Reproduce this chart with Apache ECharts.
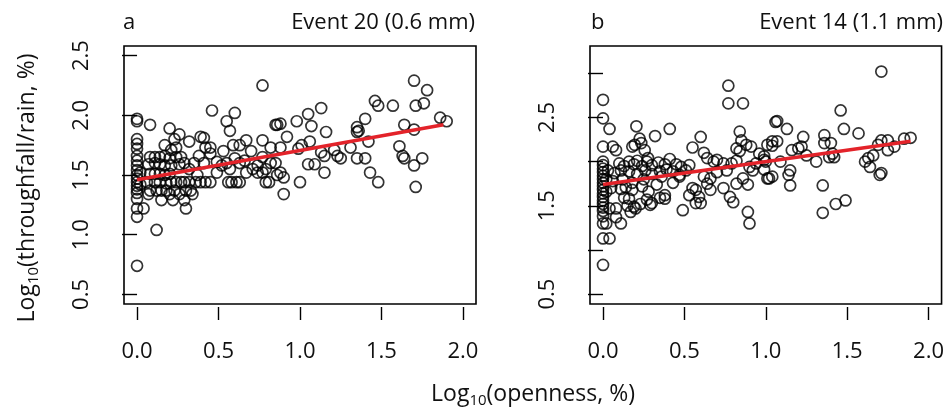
<!DOCTYPE html>
<html><head><meta charset="utf-8">
<script src="https://cdn.jsdelivr.net/npm/echarts@6/dist/echarts.min.js"></script>
<style>html,body{margin:0;padding:0;background:#fff}#c{width:947px;height:409px}</style>
</head><body><div id="c"></div>
<script>
const xTicks = [0, 0.5, 1, 1.5, 2];
const aYTicks = [0.5, 1, 1.5, 2, 2.5];
const bYTicks = [0.5, 1, 1.5, 2, 2.5, 3];
const bYLabels = [0.5, 1.5, 2.5];
const panelLetters = ['a', 'b'];
const panelTitles = ['Event 20 (0.6 mm)', 'Event 14 (1.1 mm)'];
const xTitle = '(openness, %)';
const yTitle = '(throughfall/rain, %)';

// Panel a: Event 20 — [log10 openness, log10 throughfall/rain]
const eventA = [
[0,1.97],[0,1.95],[0,1.80],[0,1.76],[0,1.72],[0,1.66],[0,1.62],[0,1.58],[0,1.54],[0,1.50],[0,1.47],[0,1.44],[0,1.41],[0,1.38],[0,1.35],[0,1.30],[0,1.22],[0,1.15],[0,0.74],
[0.04,1.22],[0.02,1.52],[0.02,1.42],
[0.08,1.92],[0.08,1.65],[0.07,1.59],[0.08,1.51],[0.06,1.44],[0.08,1.37],[0.07,1.34],
[0.11,1.65],[0.11,1.60],[0.11,1.51],[0.11,1.44],[0.12,1.37],[0.12,1.04],
[0.14,1.65],[0.14,1.59],[0.14,1.51],[0.14,1.44],[0.15,1.37],[0.15,1.29],
[0.17,1.75],[0.17,1.66],[0.17,1.58],[0.17,1.50],[0.18,1.43],[0.18,1.37],
[0.20,1.89],[0.21,1.71],[0.20,1.64],[0.21,1.58],[0.20,1.51],[0.21,1.44],[0.20,1.34],[0.22,1.29],
[0.23,1.80],[0.24,1.73],[0.24,1.65],[0.24,1.44],[0.23,1.37],
[0.26,1.84],[0.27,1.65],[0.26,1.59],[0.27,1.44],[0.26,1.34],
[0.29,1.60],[0.29,1.44],[0.30,1.37],[0.29,1.29],[0.30,1.22],
[0.32,1.78],[0.32,1.55],[0.32,1.44],[0.33,1.37],[0.34,1.34],
[0.35,1.60],[0.36,1.44],[0.37,1.50],
[0.39,1.82],[0.39,1.44],[0.38,1.66],
[0.41,1.81],[0.42,1.73],[0.41,1.60],[0.42,1.44],
[0.45,1.73],[0.45,1.68],[0.45,1.44],[0.46,2.04],
[0.49,1.61],[0.49,1.52],
[0.53,1.70],[0.52,1.58],
[0.55,1.95],[0.55,1.60],[0.56,1.44],
[0.57,1.87],[0.57,1.55],[0.58,1.44],
[0.59,1.75],[0.60,1.64],[0.61,1.44],[0.60,2.02],
[0.63,1.75],[0.63,1.60],[0.63,1.44],
[0.67,1.79],[0.66,1.62],[0.67,1.52],
[0.70,1.70],[0.71,1.55],
[0.74,1.58],[0.74,1.52],
[0.77,2.25],[0.77,1.79],[0.77,1.65],[0.77,1.52],
[0.79,1.55],[0.79,1.44],
[0.82,1.73],[0.82,1.60],[0.81,1.44],
[0.85,1.92],[0.86,1.92],[0.85,1.60],[0.86,1.50],
[0.88,1.93],[0.88,1.73],[0.88,1.52],
[0.90,1.34],[0.90,1.48],[0.92,1.82],
[0.98,1.95],[0.99,1.72],[1.00,1.44],[1.01,1.75],[1.05,2.01],[1.05,1.59],[1.06,1.78],[1.07,1.91],[1.09,1.59],
[1.13,2.06],[1.13,1.69],[1.15,1.66],[1.15,1.52],[1.16,1.86],[1.21,1.71],[1.23,1.66],[1.25,1.64],
[1.31,1.73],[1.35,1.90],[1.36,1.87],[1.35,1.86],[1.35,1.64],[1.40,1.97],[1.40,1.64],[1.42,1.78],[1.43,1.52],
[1.46,2.12],[1.48,2.08],[1.48,1.44],[1.57,2.08],[1.61,1.74],[1.63,1.66],[1.64,1.64],[1.64,1.92],
[1.70,2.29],[1.70,1.88],[1.70,1.58],[1.71,2.08],[1.71,1.40],[1.75,1.64],[1.76,2.10],[1.78,2.21],[1.86,1.98],[1.90,1.95]
];

// Panel b: Event 14
const eventB = [
[0,2.70],[0,2.49],[0,2.17],[0,2.00],[0,1.96],[0,1.92],[0,1.88],[0,1.84],[0,1.80],[0,1.76],[0,1.72],[0,1.68],[0,1.64],[0,1.60],[0,1.56],[0,1.52],[0,1.48],[0,1.44],[0,1.38],[0,1.30],[0,1.13],[0,0.83],
[0.04,2.37],[0.04,1.13],[0.02,1.30],[0.04,1.47],[0.08,1.47],[0.06,2.17],[0.08,2.13],[0.02,1.66],[0.03,1.90],[0.02,1.80],
[0.08,1.37],[0.11,1.30],[0.17,1.43],[0.20,1.47],
[0.10,1.98],[0.13,1.95],[0.16,2.00],[0.19,1.97],[0.21,2.01],[0.24,1.95],[0.27,2.00],[0.30,1.96],[0.34,1.99],[0.38,1.97],[0.41,2.03],[0.45,1.97],[0.48,1.94],
[0.07,1.87],[0.11,1.90],[0.16,1.89],[0.21,1.86],[0.26,1.90],[0.30,1.86],[0.35,1.89],[0.39,1.91],[0.43,1.89],[0.47,1.85],
[0.06,1.78],[0.12,1.80],[0.18,1.76],[0.25,1.80],[0.33,1.74],[0.36,1.83],[0.43,1.76],[0.47,1.83],[0.51,1.90],[0.53,1.96],
[0.05,1.70],[0.11,1.69],[0.14,1.71],[0.18,1.68],[0.24,1.72],[0.28,1.66],
[0.13,1.59],[0.16,1.58],[0.27,1.57],[0.35,1.59],
[0.15,1.50],[0.19,1.49],[0.23,1.52],[0.29,1.51],[0.30,1.53],[0.38,1.62],[0.38,1.58],
[0.205,2.40],[0.32,2.29],[0.225,2.26],[0.235,2.21],[0.195,2.19],[0.256,2.13],[0.276,2.04],[0.41,2.37],[0.18,2.17],
[0.49,1.45],[0.55,2.16],[0.60,2.28],[0.57,1.68],[0.59,1.60],[0.60,1.53],[0.57,1.53],[0.62,2.10],[0.64,2.04],[0.64,1.75],[0.66,1.68],[0.66,1.81],
[0.68,2.00],[0.70,2.02],[0.74,1.98],[0.74,1.70],[0.78,1.60],[0.80,1.54],[0.76,1.90],[0.79,1.98],[0.82,2.01],[0.82,1.75],[0.86,1.81],[0.89,1.74],[0.90,1.94],
[0.82,2.15],[0.84,2.12],[0.88,2.19],[0.91,2.17],[0.84,2.34],[0.85,2.24],[0.77,2.86],[0.77,2.66],[0.86,2.66],[0.89,1.43],[0.90,1.30],
[0.92,1.90],[0.94,1.98],[0.96,2.09],[0.99,2.02],[1.01,2.19],[1.04,2.23],[1.02,1.81],[1.04,1.83],[1.07,2.46],[0.55,1.70],[0.53,1.62],[0.62,1.83],[0.70,1.88],
[1.06,2.45],[1.13,2.37],[1.23,2.28],[1.36,2.30],[1.36,2.21],[1.40,2.21],[1.41,2.09],[1.39,2.05],[1.42,2.05],[1.46,2.58],[1.48,2.37],[1.57,2.32],[1.71,3.02],
[1.07,2.23],[1.04,2.18],[1.16,2.13],[1.20,2.15],[1.22,2.17],[1.25,2.07],[1.31,2.00],[0.99,2.06],[1.00,2.00],[1.09,2.00],[1.15,1.90],[1.14,1.85],
[0.99,1.91],[1.01,1.81],[1.15,1.73],[1.35,1.73],[1.35,1.42],[1.43,1.52],[1.49,1.56],[1.71,1.87],[1.70,1.85],
[1.61,2.00],[1.63,2.04],[1.64,1.94],[1.66,2.07],[1.69,2.19],[1.71,2.24],[1.75,2.24],[1.75,2.13],[1.79,2.17],[1.85,2.26],[1.89,2.27]
];

// Regression lines (endpoints)
const fitA = [[0, 1.46], [1.88, 1.92]];
const fitB = [[0, 1.74], [1.89, 2.23]];

const FF = '"Open Sans", sans-serif';
const TXT = '#111';
const chart = echarts.init(document.getElementById('c'), null, {renderer: 'canvas'});

const fmt = v => Number(v).toFixed(1);
function xAx(i) {
  return {
    type: 'value', gridIndex: i, min: -0.08, max: 2.08, offset: 3,
    axisLine: {show: false},
    axisTick: {show: true, customValues: xTicks, length: 13, lineStyle: {color: '#000', width: 1.4}},
    axisLabel: {customValues: xTicks, formatter: fmt, margin: 34, fontFamily: FF, fontSize: 22, color: TXT},
    splitLine: {show: false}
  };
}
function yAx(i, min, max, ticks, labels) {
  return {
    type: 'value', gridIndex: i, min: min, max: max,
    axisLine: {show: false},
    axisTick: {show: true, customValues: ticks, length: 15, lineStyle: {color: '#000', width: 1.4}},
    axisLabel: {customValues: labels, formatter: fmt, rotate: 90, margin: 31, fontFamily: FF, fontSize: 22, color: TXT},
    splitLine: {show: false}
  };
}
const pointStyle = {color: 'rgba(0,0,0,0)', borderColor: '#000', borderWidth: 1.7};
function scatter(i, data) {
  return {type: 'scatter', xAxisIndex: i, yAxisIndex: i, data: data, symbol: 'circle', symbolSize: 11, itemStyle: pointStyle, silent: true, animation: false};
}
function fit(i, data) {
  return {type: 'line', xAxisIndex: i, yAxisIndex: i, data: data, symbol: 'none', lineStyle: {color: '#e3232a', width: 3.5}, silent: true, animation: false, z: 5};
}
const gridBase = {show: true, borderColor: '#000', borderWidth: 1.6, backgroundColor: 'rgba(0,0,0,0)', containLabel: false};

const TF = '22px ' + FF;
const graphic = [
  {type: 'text', x: 123, y: 23, style: {text: panelLetters[0], font: TF, fill: TXT, textAlign: 'left', textVerticalAlign: 'middle'}},
  {type: 'text', x: 475, y: 23, style: {text: panelTitles[0], font: TF, fill: TXT, textAlign: 'right', textVerticalAlign: 'middle'}},
  {type: 'text', x: 591, y: 23, style: {text: panelLetters[1], font: TF, fill: TXT, textAlign: 'left', textVerticalAlign: 'middle'}},
  {type: 'text', x: 943, y: 23, style: {text: panelTitles[1], font: TF, fill: TXT, textAlign: 'right', textVerticalAlign: 'middle'}},
  {type: 'text', x: 533, y: 394, style: {
    text: 'Log{s|10}' + xTitle, fontFamily: FF, fontSize: 23, fill: TXT, align: 'center', verticalAlign: 'middle', lineHeight: 28,
    rich: {s: {fontFamily: FF, fontSize: 15, verticalAlign: 'bottom', lineHeight: 22, fill: TXT}}}},
  {type: 'text', x: 27, y: 188, rotation: Math.PI / 2, style: {
    text: 'Log{s|10}' + yTitle, fontFamily: FF, fontSize: 23, fill: TXT, align: 'center', verticalAlign: 'middle', lineHeight: 28,
    rich: {s: {fontFamily: FF, fontSize: 15, verticalAlign: 'bottom', lineHeight: 22, fill: TXT}}}}
];

chart.setOption({
  animation: false,
  backgroundColor: '#fff',
  grid: [
    Object.assign({left: 124, top: 46, width: 352, height: 258}, gridBase),
    Object.assign({left: 590, top: 46, width: 353, height: 258}, gridBase)
  ],
  xAxis: [xAx(0), xAx(1)],
  yAxis: [yAx(0, 0.42, 2.58, aYTicks, aYTicks), yAx(1, 0.387, 3.31, bYTicks, bYLabels)],
  series: [scatter(0, eventA), fit(0, fitA), scatter(1, eventB), fit(1, fitB)],
  graphic: graphic
});
</script></body></html>
